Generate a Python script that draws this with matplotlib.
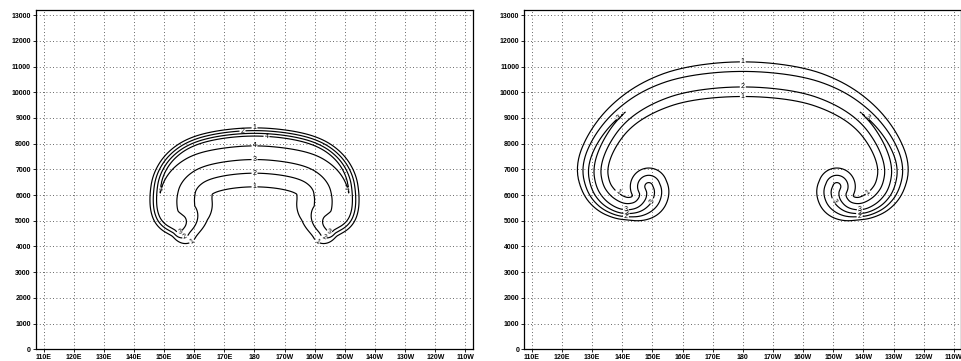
import numpy as np
import matplotlib
matplotlib.use('Agg')
import matplotlib.pyplot as plt
from matplotlib.path import Path

plt.rcParams['font.family'] = ['Liberation Sans', 'DejaVu Sans']

# one degree of longitude is about as long as 118 m of height on this plot
M_PER_DEG = 118.0

lon_ticks = [110, 120, 130, 140, 150, 160, 170, 180, 190, 200, 210, 220, 230, 240, 250]
lon_labels = ['110E', '120E', '130E', '140E', '150E', '160E', '170E', '180',
              '170W', '160W', '150W', '140W', '130W', '120W', '110W']
hgt_ticks = [0, 1000, 2000, 3000, 4000, 5000, 6000, 7000, 8000, 9000, 10000, 11000, 12000, 13000]

# left panel: ridge line of the band (west half, from 180 down to its end)
left_lon = [180, 168, 159, 153, 149.5, 148.5, 148.7, 150.3, 154]
left_hgt = [8262, 8140, 7850, 7350, 6700, 6000, 5400, 5000, 4750]
left_peak = [4.6, 4.6, 4.5, 4.35, 4.15, 3.98, 3.95, 3.92, 3.9]
left_sout = [0.9, 0.9, 0.95, 1.0, 1.05, 1.1, 1.1, 1.1, 1.1]     # deg per unit, outside
left_sin = [4.5, 4.5, 4.7, 5.0, 5.4, 5.8, 5.9, 5.6, 5.0]        # deg per unit, inside
left_scap = 2.5
left_reach = 60
left_levels = [1, 2, 3, 4]
left_lab_x = [180, 176, 184, 180, 180, 180, 180, 150, 155.2, 157.2, 159.3, 210, 204.8, 202.8, 200.7]
left_lab_y = [8640, 8530, 8330, 7944, 7400, 6950, 6350, 6150, 4570, 4310, 4180, 6150, 4570, 4310, 4180]

# right panel: ridge line of the band, ending in the curl
right_lon = [180, 161, 148.5, 139, 132.5, 129.2, 130.3, 133.5, 138, 142, 146, 148.8, 149.6, 148.8]
right_hgt = [10560, 10350, 9850, 9080, 8100, 7100, 6250, 5700, 5380, 5310, 5420, 5750, 6100, 6330]
right_peak = [2.8, 2.85, 2.95, 3.02, 3.3, 3.45, 3.45, 3.45, 3.4, 3.4, 3.45, 3.5, 3.55, 3.55]
right_sout = [3.2, 3.0, 2.6, 2.3, 2.0, 1.9, 1.6, 1.3, 1.05, 1.0, 1.5, 2.2, 2.4, 2.4]
right_sin = [3.2, 3.0, 2.8, 2.5, 2.3, 2.3, 2.3, 2.3, 2.2, 2.0, 2.0, 2.2, 2.4, 2.4]
right_scap = 2.4
right_reach = 0
right_levels = [1, 2, 3]
right_lab_x = [180, 180, 180, 138.2, 221.8, 138.2, 221.8, 149.3, 210.7, 141.2, 141.4, 141.2, 218.8, 218.6, 218.8]
right_lab_y = [11235, 10260, 9885, 9116, 9116, 6065, 6065, 5805, 5805, 5500, 5330, 5150, 5480, 5300, 5100]


def chaikin(arrs, n=3):
    for _ in range(n):
        new = []
        for a in arrs:
            q = 0.75 * a[:-1] + 0.25 * a[1:]
            r = 0.25 * a[:-1] + 0.75 * a[1:]
            mid = np.empty(2 * len(q))
            mid[0::2] = q
            mid[1::2] = r
            new.append(np.concatenate([a[:1], mid, a[-1:]]))
        arrs = new
    return arrs


def band_field(lon, hgt, peak, sout, sin, scap, reach, xx, yy):
    # add the mirrored second node so the ridge is symmetric across 180
    lon = [360 - lon[1]] + list(lon)
    hgt = [hgt[1]] + list(hgt)
    peak = [peak[1]] + list(peak)
    sout = [sout[1]] + list(sout)
    sin = [sin[1]] + list(sin)
    px, py, pk, so, si = chaikin([np.array(lon, float), np.array(hgt, float) / M_PER_DEG,
                                  np.array(peak, float), np.array(sout, float), np.array(sin, float)])
    qx = np.where(xx > 180, 360 - xx, xx)
    qy = yy / M_PER_DEG

    # inner side = inside the arch, closed beyond its two ends
    west = px <= 180
    hx, hy = px[west], py[west]
    ux, uy = px[-1] - px[-2], py[-1] - py[-2]
    un = np.hypot(ux, uy)
    tx, ty = px[-1] + reach * ux / un, py[-1] + reach * uy / un
    ring = np.column_stack([np.concatenate([360 - hx[::-1], hx, [tx, 360 - tx]]),
                            np.concatenate([hy[::-1], hy, [ty, ty]])])
    inner = Path(ring).contains_points(np.column_stack([qx.ravel(), qy.ravel()])).reshape(qx.shape)

    val = np.full(qx.shape, -99.0)
    nseg = len(px) - 1
    for i in range(nseg):
        dx, dy = px[i + 1] - px[i], py[i + 1] - py[i]
        L2 = dx * dx + dy * dy
        L = np.sqrt(L2)
        t = ((qx - px[i]) * dx + (qy - py[i]) * dy) / L2
        tc = np.clip(t, 0, 1)
        d = np.hypot(qx - (px[i] + tc * dx), qy - (py[i] + tc * dy))
        p = pk[i] + tc * (pk[i + 1] - pk[i])
        s_side = np.where(inner, si[i] + tc * (si[i + 1] - si[i]), so[i] + tc * (so[i + 1] - so[i]))
        # past a segment's ends the slope leans towards the cap slope
        if i == nseg - 1:
            s_end = np.where(t > 1, scap, np.minimum(s_side, scap))
        else:
            s_end = np.minimum(s_side, scap)
        c = np.clip(np.abs(t - tc) * L / np.maximum(d, 1e-9), 0, 1)
        s = s_side + (s_end - s_side) * c ** 2
        val = np.maximum(val, p - d / s)
    return val


x = np.arange(107.5, 252.51, 0.25)
y = np.arange(0, 13201, 20)
xx, yy = np.meshgrid(x, y)

left_field = band_field(left_lon, left_hgt, left_peak, left_sout, left_sin,
                        left_scap, left_reach, xx, yy)
right_field = band_field(right_lon, right_hgt, right_peak, right_sout, right_sin,
                         right_scap, right_reach, xx, yy)

fig = plt.figure(figsize=(9.62, 3.61), dpi=100)
ax1 = fig.add_axes([0.0374, 0.0324, 0.4543, 0.9399])
ax2 = fig.add_axes([0.545, 0.0324, 0.4543, 0.9399])

panels = [(ax1, left_field, left_levels, left_lab_x, left_lab_y),
          (ax2, right_field, right_levels, right_lab_x, right_lab_y)]

for ax, field, levels, lab_x, lab_y in panels:
    ax.set_xlim(107.5, 252.5)
    ax.set_ylim(0, 13200)
    ax.set_xticks(lon_ticks)
    ax.set_xticklabels(lon_labels)
    ax.set_yticks(hgt_ticks)
    ax.set_yticklabels([str(v) for v in hgt_ticks])
    ax.tick_params(direction='out', length=2.5, width=0.6, pad=1.2, labelsize=5)
    for lab in ax.get_xticklabels() + ax.get_yticklabels():
        lab.set_fontweight('bold')
    ax.grid(True, color='0.2', linestyle=(0, (1, 3)), linewidth=0.6)
    ax.set_axisbelow(True)
    for sp in ax.spines.values():
        sp.set_linewidth(0.9)
    cs = ax.contour(xx, yy, field, levels=levels, colors='k', linewidths=0.85)
    ax.clabel(cs, levels, manual=list(zip(lab_x, lab_y)), fontsize=5, fmt='%d',
              inline=True, inline_spacing=1)

fig.savefig('out.png', dpi=100)
